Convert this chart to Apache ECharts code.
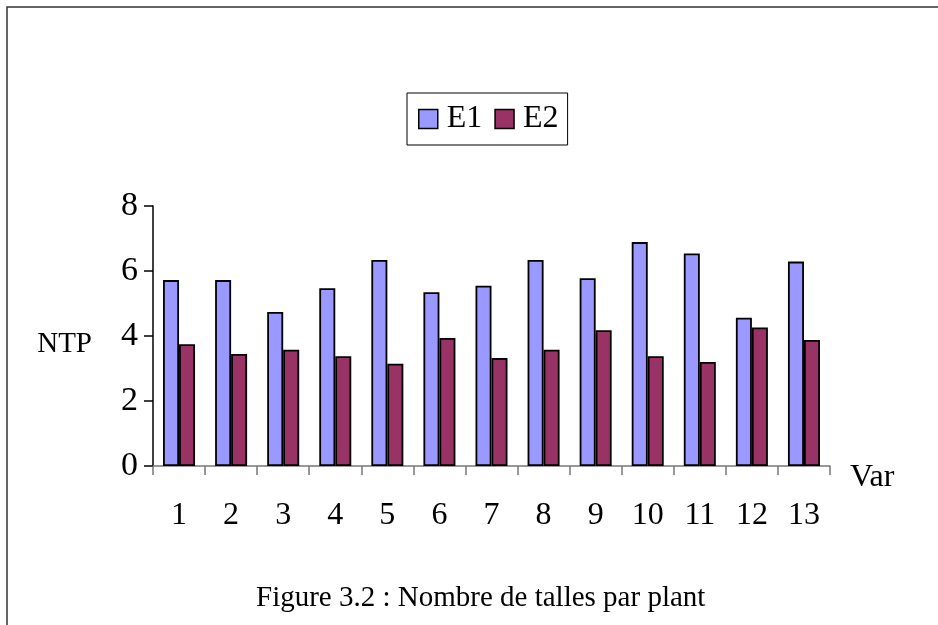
<!DOCTYPE html>
<html>
<head>
<meta charset="utf-8">
<script src="https://cdn.jsdelivr.net/npm/echarts@6/dist/echarts.min.js"></script>
<style>
  html, body { margin: 0; padding: 0; background: #fff; }
  #main { width: 938px; height: 625px; }
</style>
</head>
<body>
<div id="main"></div>
<script>
// Nombre de talles par plant (NTP), 13 varietes, 2 essais
var varietes = ['1', '2', '3', '4', '5', '6', '7', '8', '9', '10', '11', '12', '13'];
var serieE1 = [5.72, 5.72, 4.74, 5.47, 6.34, 5.35, 5.55, 6.34, 5.78, 6.89, 6.54, 4.56, 6.29];
var serieE2 = [3.75, 3.45, 3.58, 3.38, 3.15, 3.94, 3.32, 3.58, 4.18, 3.38, 3.2, 4.26, 3.88];
var nomsSeries = ['E1', 'E2'];
var yTicks = [0, 2, 4, 6, 8];

var police = 'Liberation Serif';

var myChart = echarts.init(document.getElementById('main'));

var option = {
    backgroundColor: '#fff',
    animation: false,
    textStyle: { fontFamily: police, color: '#000' },
    title: {
        text: 'Figure 3.2 : Nombre de talles par plant',
        left: 256,
        top: 584,
        padding: 0,
        textStyle: { fontFamily: police, fontSize: 29, fontWeight: 'normal', color: '#000' }
    },
    graphic: [{
        type: 'rect',
        shape: { x: 7, y: 7, width: 960, height: 660 },
        style: { fill: 'none', stroke: '#333', lineWidth: 1.5 },
        silent: true
    }],
    legend: {
        data: nomsSeries,
        left: 407,
        top: 93,
        padding: [10, 9, 10, 11],
        itemWidth: 19,
        itemHeight: 19,
        itemGap: 12,
        itemStyle: { borderColor: '#000', borderWidth: 1.5 },
        borderColor: '#000',
        borderWidth: 1,
        icon: 'rect',
        textStyle: { fontFamily: police, fontSize: 32, color: '#000', padding: [0, 0, 0, 4] }
    },
    grid: { left: 153, right: 108, top: 206, bottom: 159 },
    xAxis: {
        type: 'category',
        data: varietes,
        name: 'Var',
        nameLocation: 'end',
        nameGap: 20,
        nameTextStyle: { fontFamily: police, fontSize: 32, color: '#000', verticalAlign: 'top', lineHeight: 24 },
        axisLine: { lineStyle: { color: '#777', width: 1.5 } },
        axisTick: { show: true, alignWithLabel: false, length: 9, lineStyle: { color: '#777', width: 1.5 } },
        axisLabel: { margin: 34, fontFamily: police, fontSize: 32, color: '#000' }
    },
    yAxis: {
        type: 'value',
        min: yTicks[0],
        max: yTicks[yTicks.length - 1],
        interval: 2,
        name: 'NTP',
        nameLocation: 'middle',
        nameRotate: 0,
        nameGap: 61,
        nameTextStyle: { fontFamily: police, fontSize: 29, color: '#000', verticalAlign: 'top', lineHeight: 16 },
        axisLine: { show: true, lineStyle: { color: '#000', width: 1.5 } },
        axisTick: { show: true, length: 9, lineStyle: { color: '#000', width: 1.5 } },
        splitLine: { show: false },
        axisLabel: { margin: 15, fontFamily: police, fontSize: 34, color: '#000' }
    },
    series: [{
        name: nomsSeries[0],
        type: 'bar',
        data: serieE1,
        barWidth: 16,
        barGap: '0%',
        itemStyle: { color: '#9999ff', borderColor: '#000', borderWidth: 1.8 }
    }, {
        name: nomsSeries[1],
        type: 'bar',
        data: serieE2,
        barWidth: 16,
        itemStyle: { color: '#993366', borderColor: '#000', borderWidth: 1.8 }
    }]
};

myChart.setOption(option);
</script>
</body>
</html>
